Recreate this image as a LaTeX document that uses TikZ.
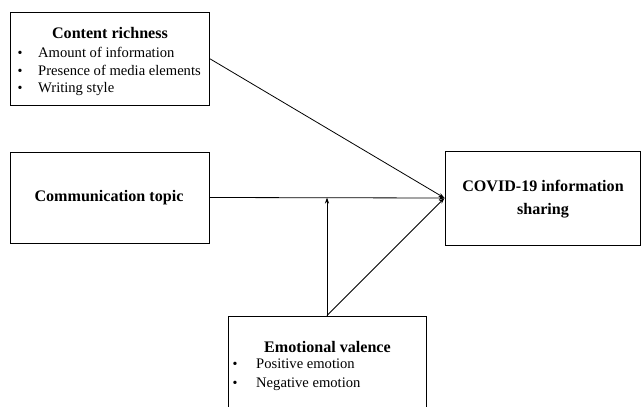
\documentclass[tikz,border=0pt]{standalone}
\usepackage{fontspec}
\setmainfont{Liberation Serif}
\usetikzlibrary{arrows.meta}
\begin{document}
\begin{tikzpicture}[x=1pt,y=-1pt,
  box/.style={draw, line width=0.9pt, rectangle, inner sep=0pt},
  txt/.style={font=\fontsize{14.6}{17}\selectfont, inner sep=0pt, anchor=base west},
  bul/.style={font=\fontsize{14}{17}\selectfont, inner sep=0pt, anchor=base},
  ttl/.style={font=\fontsize{16.1}{23}\selectfont\bfseries, inner sep=0pt, align=center},
  conn/.style={line width=0.8pt, -{Stealth[length=6pt,width=4pt]}}]
\clip (0,0) rectangle (641,407);
\fill[white] (0,0) rectangle (641,407);
% boxes
\node[box, minimum width=199pt, minimum height=93pt] (cr) at (109.5,58.5) {};
\node[box, minimum width=199pt, minimum height=91pt] (ct) at (109.5,197.5) {};
\node[box, minimum width=195.5pt, minimum height=94pt] (cs) at (542.75,198) {};
\node[box, minimum width=198pt, minimum height=110pt] (ev) at (327,371) {};
% texts
\node[ttl] (crt) at (110,33) {Content richness};
\node[bul] (crb1) at (20,57) {•};
\node[bul] (crb2) at (20,75) {•};
\node[bul] (crb3) at (20,92) {•};
\node[txt] (cr1) at (38,57) {Amount of information};
\node[txt] (cr2) at (38,75) {Presence of media elements};
\node[txt] (cr3) at (38,92) {Writing style};
\node[ttl] (ctt) at (109,198) {Communication topic};
\node[ttl] (cst) at (543,199.5) {COVID-19 information\\sharing};
\node[ttl] (evt) at (327.5,347) {Emotional valence};
\node[bul] (evb1) at (235,368) {•};
\node[bul] (evb2) at (235,387) {•};
\node[txt] (ev1) at (256,368) {Positive emotion};
\node[txt] (ev2) at (256,387) {Negative emotion};
% connectors
\coordinate (tgt) at (cs.west);
\coordinate (mid) at (ev.north |- ct.east);
\draw[conn] (cr.east) -- (tgt);
\draw[conn] (ct.east) -- (tgt);
\draw[conn] (ev.north) -- (tgt);
\draw[conn] (ev.north) -- (mid);
\end{tikzpicture}
\end{document}
